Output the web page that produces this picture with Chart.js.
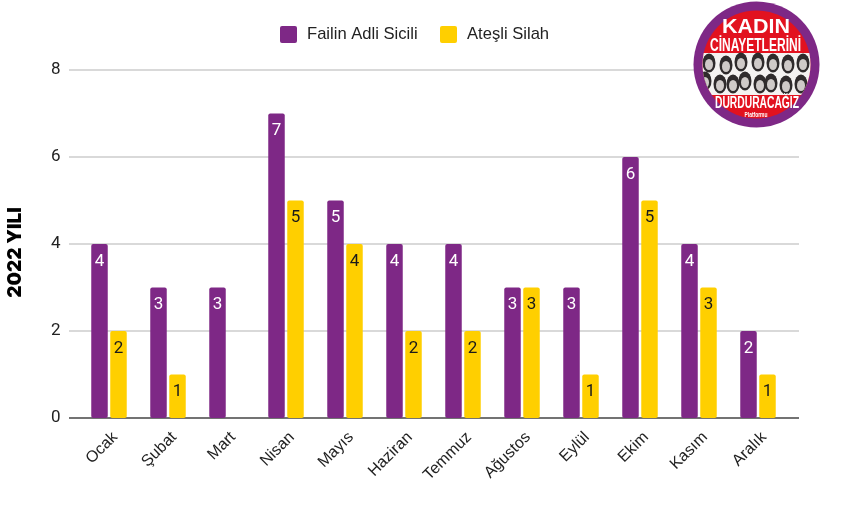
<!DOCTYPE html>
<html>
<head>
<meta charset="utf-8">
<script src="https://cdn.jsdelivr.net/npm/chart.js@4"></script>
<style>
  html, body { margin: 0; background: #fff; }
  #wrap { position: relative; width: 850px; height: 505px; overflow: hidden; }
  #logo { position: absolute; left: 0; top: 0; }
</style>
</head>
<body>
<div id="wrap">
  <canvas id="chart" width="850" height="505"></canvas>
  <svg id="logo" width="850" height="505" font-family="Liberation Sans, sans-serif" font-weight="bold" text-anchor="middle">
    <defs><clipPath id="inner"><circle cx="756.5" cy="64.5" r="54"/></clipPath></defs>
    <circle cx="756.5" cy="64.5" r="63" fill="#7E2886"/>
    <circle cx="756.5" cy="64.5" r="54" fill="#E2121F"/>
    <g clip-path="url(#inner)">
      <rect x="700" y="53" width="113" height="42" fill="#f4f2f1"/>
      <g id="faces"></g>
    </g>
    <text x="756" y="33" fill="#fff" font-size="21" textLength="68" lengthAdjust="spacingAndGlyphs">KADIN</text>
    <text x="755.5" y="51" fill="#fff" font-size="19" textLength="91" lengthAdjust="spacingAndGlyphs">CİNAYETLERİNİ</text>
    <text x="757" y="108" fill="#fff" font-size="16" textLength="84" lengthAdjust="spacingAndGlyphs">DURDURACAĞIZ</text>
    <text x="756" y="117" fill="#fff" font-size="7" textLength="23" lengthAdjust="spacingAndGlyphs">Platformu</text>
  </svg>
</div>
<script>
const months = ['Ocak','Şubat','Mart','Nisan','Mayıs','Haziran','Temmuz','Ağustos','Eylül','Ekim','Kasım','Aralık'];
const failinAdliSicili = [4,3,3,7,5,4,4,3,3,6,4,2];
const atesliSilah = [2,1,null,5,4,2,2,3,1,5,3,1];
const yTicks = [0,2,4,6,8];
const yTitle = '2022 YILI';

// logo faces: [cx, cy]
const facesTop = [[709,63],[726,65],[741,62],[758,62],[773,63],[788,64],[803,63]];
const facesBottom = [[705,81],[720,84],[733,84],[745,81],[760,84],[771,83],[786,85],[801,84]];
(function(){
  const g = document.getElementById('faces');
  let html = '';
  facesTop.concat(facesBottom).forEach(f => {
    html += `<ellipse cx="${f[0]}" cy="${f[1]}" rx="6.5" ry="9.5" fill="#2f2b2c"/>`;
    html += `<ellipse cx="${f[0]}" cy="${f[1]+1.5}" rx="4" ry="5.5" fill="#cfcac8"/>`;
  });
  g.innerHTML = html;
})();

const GRID_LEFT = 69, GRID_RIGHT = 799;

// grid runs wider than the category band, so it is drawn here from the y scale
const gridPlugin = {
  id: 'wideGrid',
  beforeDatasetsDraw(chart){
    const c = chart.ctx, y = chart.scales.y;
    c.save();
    yTicks.forEach(v => {
      const py = y.getPixelForValue(v);
      c.beginPath();
      c.moveTo(GRID_LEFT, py);
      c.lineTo(GRID_RIGHT, py);
      c.lineWidth = 1.3;
      c.strokeStyle = v === 0 ? '#444444' : '#cccccc';
      c.stroke();
    });
    c.restore();
  }
};

const barLabels = {
  id: 'barLabels',
  afterDatasetsDraw(chart){
    const c = chart.ctx;
    c.save();
    c.font = '17px Roboto';
    c.textAlign = 'center';
    c.textBaseline = 'middle';
    chart.data.datasets.forEach((ds, i) => {
      c.fillStyle = i === 0 ? '#ffffff' : '#1a1a1a';
      chart.getDatasetMeta(i).data.forEach((bar, j) => {
        if (ds.data[j] == null) return;
        c.fillText(String(ds.data[j]), bar.x, bar.y + 17.5);
      });
    });
    c.restore();
  }
};

// legend and axis title sit off-centre from the plot area
const legendAndTitle = {
  id: 'legendAndTitle',
  afterDraw(chart){
    const c = chart.ctx;
    const boxX = [280, 440], textX = [307, 467];
    c.save();
    c.font = '16.6px "Liberation Sans"';
    c.textBaseline = 'middle';
    c.textAlign = 'left';
    chart.data.datasets.forEach((ds, i) => {
      c.fillStyle = ds.backgroundColor;
      c.beginPath();
      c.roundRect(boxX[i], 26, 17, 17, 2);
      c.fill();
      c.fillStyle = '#222222';
      c.fillText(ds.label, textX[i], 34.5);
    });
    c.translate(15.5, 252.5);
    c.rotate(-Math.PI / 2);
    c.textAlign = 'center';
    c.font = '900 19px Inter';
    c.fillStyle = '#000000';
    c.fillText(yTitle, 0, 0);
    c.restore();
  }
};

new Chart(document.getElementById('chart').getContext('2d'), {
  type: 'bar',
  data: {
    labels: months,
    datasets: [
      { label: 'Failin Adli Sicili', data: failinAdliSicili, backgroundColor: '#7E2886', borderRadius: 2, borderSkipped: false },
      { label: 'Ateşli Silah', data: atesliSilah, backgroundColor: '#FFCF00', borderRadius: 2, borderSkipped: false }
    ]
  },
  plugins: [gridPlugin, barLabels, legendAndTitle],
  options: {
    responsive: false,
    animation: false,
    devicePixelRatio: 1,
    categoryPercentage: 0.644,
    barPercentage: 0.868,
    layout: { padding: { top: 70, right: 62.5, bottom: 0, left: 0 } },
    scales: {
      x: {
        grid: { display: false },
        border: { display: false },
        afterFit(s){ s.height = 87; },
        ticks: { color: '#222', font: { family: 'Liberation Sans', size: 16 }, minRotation: 45, maxRotation: 45, padding: 2, labelOffset: 6 }
      },
      y: {
        min: 0, max: 8,
        afterFit(s){ s.width = 79.5; },
        grid: { display: false },
        border: { display: false },
        ticks: { stepSize: 2, color: '#222', font: { family: 'Roboto', size: 17 }, padding: 11 }
      }
    },
    plugins: {
      tooltip: { enabled: false },
      legend: { display: false }
    }
  }
});
</script>
</body>
</html>
